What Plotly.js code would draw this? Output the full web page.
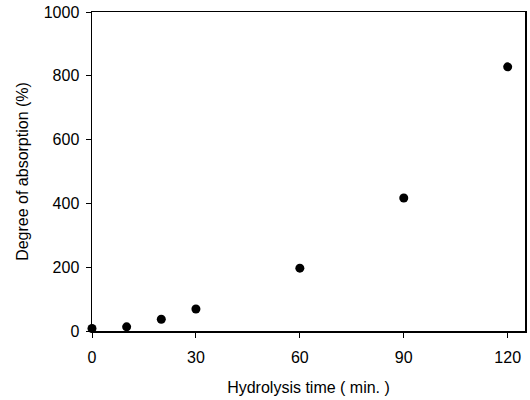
<!DOCTYPE html>
<html><head><meta charset="utf-8">
<script src="https://cdn.plot.ly/plotly-3.0.1.min.js"></script>
<style>body{margin:0;background:#fff}#c{width:530px;height:400px}</style>
</head><body><div id="c"></div>
<script>
const hydrolysisTime = [0, 10, 20, 30, 60, 90, 120];
const absorption = [8, 13, 37, 69, 197, 417, 828];
const xTicks = [0, 30, 60, 90, 120];
const yTicks = [0, 200, 400, 600, 800, 1000];

const font = {family: 'Liberation Sans, Arial, sans-serif', color: '#000', size: 16};
Plotly.newPlot('c', [{
  x: hydrolysisTime, y: absorption, type: 'scatter', mode: 'markers',
  marker: {color: '#000', size: 9}, cliponaxis: false
}], {
  width: 530, height: 400,
  margin: {l: 92, r: 5, t: 12, b: 69},
  paper_bgcolor: '#fff', plot_bgcolor: '#fff',
  font: font, showlegend: false,
  xaxis: {range: [0, 125], tickvals: xTicks, ticks: 'outside', ticklen: 5, tickcolor: '#000',
    showline: true, linecolor: '#000', linewidth: 1.5, mirror: true, showgrid: false, zeroline: false,
    ticklabelstandoff: 6,
    tickfont: font, title: {text: 'Hydrolysis time ( min. )', font: font, standoff: 17}},
  yaxis: {range: [0, 1000], tickvals: yTicks, ticks: 'outside', ticklen: 5, tickcolor: '#000',
    showline: true, linecolor: '#000', linewidth: 1.5, mirror: true, showgrid: false, zeroline: false,
    ticklabelstandoff: 3,
    tickfont: font, title: {text: 'Degree of absorption (%)', font: font, standoff: 11}}
}, {staticPlot: true});
</script></body></html>
